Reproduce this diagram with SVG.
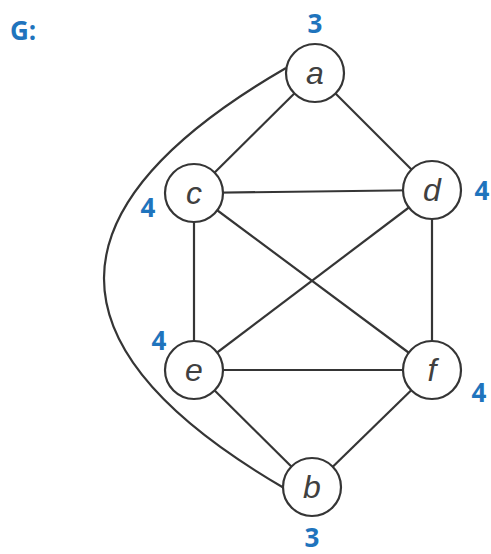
<svg xmlns="http://www.w3.org/2000/svg" width="491" height="554" viewBox="0 0 491 554">
<style>
.edge{stroke:#353535;stroke-width:2.2;fill:none}
.node circle{fill:#fff;stroke:#353535;stroke-width:2.2}
.node text{font-family:"Liberation Sans",Arial,sans-serif;font-style:italic;font-size:32px;fill:#404040;text-anchor:middle}
.deg{font-family:"Open Sans","Liberation Sans",sans-serif;font-weight:bold;font-size:26px;fill:#1f74bd;text-anchor:middle}
</style>
<rect width="491" height="554" fill="#fff"/>
<text x="10" y="40" class="deg" style="text-anchor:start">G:</text>
<g id="edges">
<path class="edge" d="M286 68 Q-77 278 284 488"/>
<line class="edge" x1="315" y1="73" x2="194" y2="193"/>
<line class="edge" x1="315" y1="73" x2="432" y2="190"/>
<line class="edge" x1="194" y1="193" x2="432" y2="190"/>
<line class="edge" x1="194" y1="193" x2="194" y2="370"/>
<line class="edge" x1="194" y1="193" x2="432" y2="370"/>
<line class="edge" x1="432" y1="190" x2="194" y2="370"/>
<line class="edge" x1="432" y1="190" x2="432" y2="370"/>
<line class="edge" x1="194" y1="370" x2="432" y2="370"/>
<line class="edge" x1="194" y1="370" x2="312" y2="487"/>
<line class="edge" x1="432" y1="370" x2="312" y2="487"/>
</g>
<g id="a" class="node"><circle cx="315" cy="73" r="29"/><text x="315" y="84">a</text></g>
<g id="c" class="node"><circle cx="194" cy="193" r="29"/><text x="194" y="204">c</text></g>
<g id="d" class="node"><circle cx="432" cy="190" r="29"/><text x="432" y="201">d</text></g>
<g id="e" class="node"><circle cx="194" cy="370" r="29"/><text x="194" y="381">e</text></g>
<g id="f" class="node"><circle cx="432" cy="370" r="29"/><text x="432" y="381">f</text></g>
<g id="b" class="node"><circle cx="312" cy="487" r="29"/><text x="312" y="498">b</text></g>
<text class="deg" x="315" y="33">3</text>
<text class="deg" x="148" y="217">4</text>
<text class="deg" x="482" y="200">4</text>
<text class="deg" x="159" y="350">4</text>
<text class="deg" x="479" y="402">4</text>
<text class="deg" x="312" y="547">3</text>
</svg>
